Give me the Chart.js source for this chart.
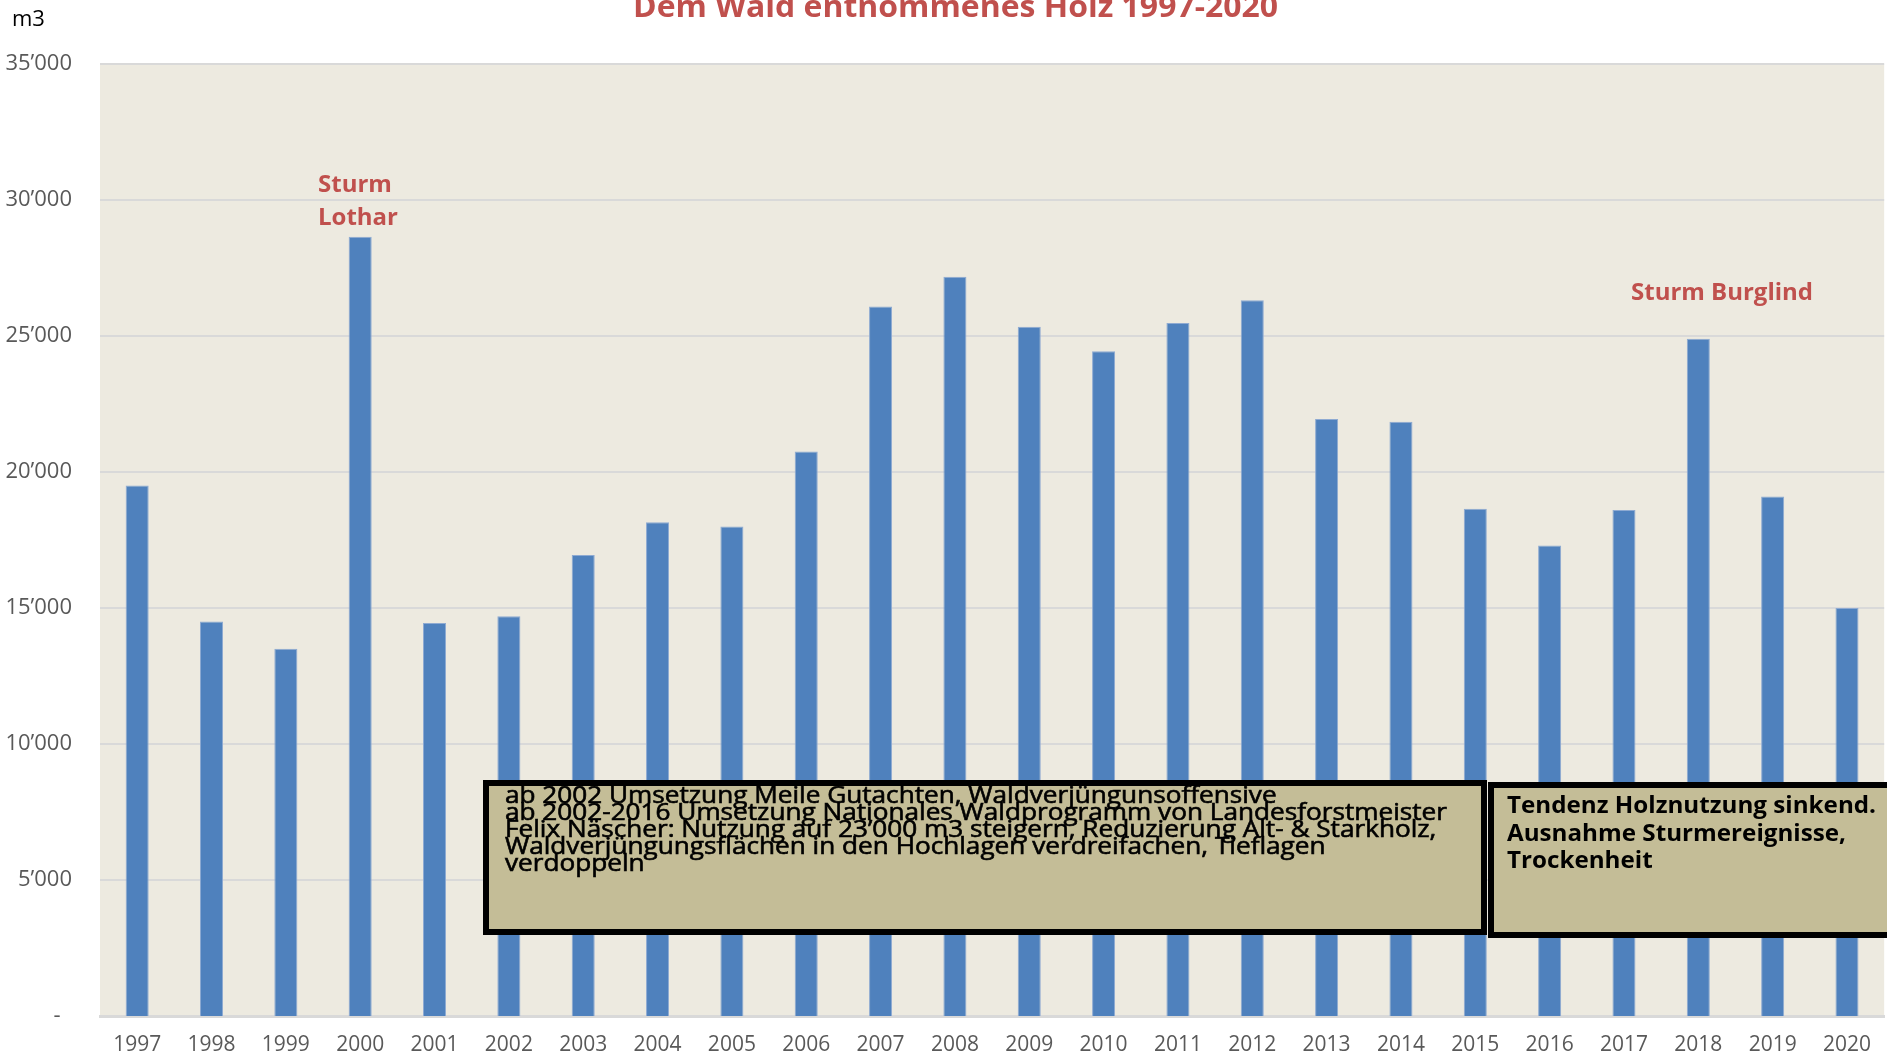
<!DOCTYPE html>
<html lang="de">
<head>
    <meta charset="UTF-8">
    <title>Dem Wald entnommenes Holz 1997-2020</title>
    <script src="https://cdn.jsdelivr.net/npm/chart.js"></script>
    <style>
        html, body { margin: 0; padding: 0; background: #ffffff; }
        .chart-container { width: 1887px; height: 1064px; position: relative; }
    </style>
</head>
<body>
    <div class="chart-container">
        <canvas id="holzChart"></canvas>
    </div>

    <script>
        // Data (m3 per year)
        const years = ['1997', '1998', '1999', '2000', '2001', '2002', '2003', '2004', '2005', '2006', '2007', '2008',
                       '2009', '2010', '2011', '2012', '2013', '2014', '2015', '2016', '2017', '2018', '2019', '2020'];
        const volumes = [19500, 14500, 13500, 28650, 14450, 14700, 16950, 18150, 18000, 20750, 26080, 27180,
                         25340, 24440, 25480, 26310, 21950, 21850, 18650, 17300, 18600, 24900, 19100, 15000];
        const yTickValues = [0, 5000, 10000, 15000, 20000, 25000, 30000, 35000];
        const yTickLabels = ['-  ', '5\u2019000', '10\u2019000', '15\u2019000', '20\u2019000', '25\u2019000', '30\u2019000', '35\u2019000'];

        const titleText = 'Dem Wald entnommenes Holz 1997-2020';
        const noteLeft = [
            'ab 2002 Umsetzung Meile Gutachten, Waldverjüngunsoffensive',
            'ab 2002-2016 Umsetzung Nationales Waldprogramm von Landesforstmeister',
            'Felix Näscher: Nutzung auf 23\u2019000 m3 steigern, Reduzierung Alt- & Starkholz,',
            'Waldverjüngungsflächen in den Hochlagen verdreifachen, Tieflagen',
            'verdoppeln'
        ];
        const noteRight = [
            'Tendenz Holznutzung sinkend.',
            'Ausnahme Sturmereignisse,',
            'Trockenheit'
        ];

        const RED = '#C0504D';
        const FONT = '"Open Sans", "Noto Sans", sans-serif';

        // draw text squeezed/stretched horizontally
        function fitText(ctx, text, x, y, sx, stroke) {
            ctx.save();
            ctx.translate(x, y);
            ctx.scale(sx, 1);
            ctx.fillText(text, 0, 0);
            if (stroke) ctx.strokeText(text, 0, 0);
            ctx.restore();
        }

        const plotBackground = {
            id: 'plotBackground',
            beforeDraw(chart) {
                const { ctx, chartArea: a } = chart;
                ctx.save();
                ctx.fillStyle = '#EDEAE0';
                ctx.fillRect(a.left, a.top, a.right - a.left, a.bottom - a.top);
                ctx.restore();
            }
        };

        const annotations = {
            id: 'annotations',
            afterDatasetsDraw(chart) {
                const ctx = chart.ctx;
                ctx.save();
                ctx.textBaseline = 'alphabetic';
                ctx.textAlign = 'left';

                // title (cut off at the top edge)
                ctx.fillStyle = RED;
                ctx.font = 'bold 30px ' + FONT;
                let w = ctx.measureText(titleText).width;
                fitText(ctx, titleText, 633, 17, 645 / w);

                // unit
                ctx.fillStyle = '#000000';
                ctx.font = '22px ' + FONT;
                ctx.fillText('m3', 12, 26);

                // storm labels
                ctx.fillStyle = RED;
                ctx.font = 'bold 24px ' + FONT;
                ctx.fillText('Sturm', 318, 192);
                ctx.fillText('Lothar', 318, 225);
                w = ctx.measureText('Sturm Burglind').width;
                fitText(ctx, 'Sturm Burglind', 1631, 300, 182 / w);

                // left note box
                ctx.fillStyle = '#C4BD97';
                ctx.strokeStyle = '#000000';
                ctx.lineWidth = 6;
                ctx.fillRect(486, 783, 998, 149);
                ctx.strokeRect(486, 783, 998, 149);
                ctx.fillStyle = '#000000';
                ctx.font = '23px ' + FONT;
                ctx.lineWidth = 0.6;
                const sLeft = 942 / ctx.measureText(noteLeft[1]).width;
                noteLeft.forEach((line, i) => fitText(ctx, line, 505, 803 + i * 17, sLeft, true));

                // right note box
                ctx.fillStyle = '#C4BD97';
                ctx.lineWidth = 6;
                ctx.fillRect(1491, 785, 420, 150);
                ctx.strokeRect(1491, 785, 420, 150);
                ctx.fillStyle = '#000000';
                ctx.font = 'bold 23px ' + FONT;
                const sRight = 369 / ctx.measureText(noteRight[0]).width;
                noteRight.forEach((line, i) => fitText(ctx, line, 1507, 813 + i * 27.5, sRight));

                ctx.restore();
            }
        };

        const ctx = document.getElementById('holzChart').getContext('2d');
        new Chart(ctx, {
            type: 'bar',
            data: {
                labels: years,
                datasets: [{
                    label: 'm3',
                    data: volumes,
                    backgroundColor: '#4F81BD',
                    borderColor: '#8EAAD2',
                    borderWidth: 1,
                    categoryPercentage: 1.0,
                    barPercentage: 0.31
                }]
            },
            options: {
                responsive: true,
                maintainAspectRatio: false,
                animation: false,
                layout: { padding: { top: 64, right: 0, bottom: 0, left: 0 } },
                plugins: {
                    legend: { display: false },
                    tooltip: { enabled: false },
                    title: { display: false }
                },
                scales: {
                    x: {
                        grid: { display: false, drawTicks: false },
                        border: { display: true, color: '#D9D9D9', width: 3 },
                        ticks: {
                            color: '#595959',
                            font: { family: FONT, size: 21 },
                            padding: 16,
                            maxRotation: 0,
                            autoSkip: false
                        },
                        afterFit: scale => { scale.height = 48; }
                    },
                    y: {
                        min: 0,
                        max: 35000,
                        afterBuildTicks: scale => {
                            scale.ticks = yTickValues.map(v => ({ value: v }));
                        },
                        grid: {
                            color: '#D9D9D9',
                            lineWidth: c => (c.tick && c.tick.value === 0 ? 0 : 2),
                            drawTicks: false
                        },
                        border: { display: false },
                        ticks: {
                            color: '#595959',
                            font: { family: FONT, size: 22 },
                            padding: 28,
                            callback: (value) => yTickLabels[yTickValues.indexOf(value)]
                        },
                        afterFit: scale => { scale.width = 100; }
                    }
                }
            },
            plugins: [plotBackground, annotations]
        });
    </script>
</body>
</html>
